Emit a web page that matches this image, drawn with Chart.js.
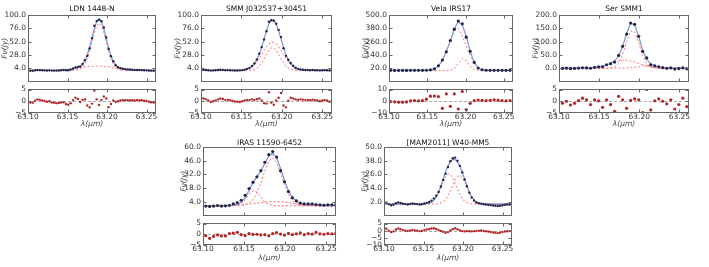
<!DOCTYPE html>
<html>
<head>
<meta charset="utf-8">
<script src="https://cdn.jsdelivr.net/npm/chart.js@4.4.0/dist/chart.umd.min.js"></script>
<style>
  html, body { margin: 0; padding: 0; background: #fff; }
  body { position: relative; width: 709px; height: 267px; overflow: hidden; }
  canvas { position: absolute; }
</style>
</head>
<body>
<script>
// wavelength ticks shared by every panel
const waveTicks = [63.10, 63.15, 63.20, 63.25];

// LDN 1448-N  (grid 63.100 + 0.003 i)
const ldnStart = 63.100, ldnStep = 0.003;
const ldnFlux = [-0.3,-0.5,-0.6,0.2,0.8,0.6,0.3,0.1,-0.2,0.1,-0.3,-0.3,-0.4,-0.1,0.3,0.7,0.2,0.3,1.5,3.5,5.3,6.1,7.0,11.7,18.5,26.2,39.6,58.3,80.6,89.2,91.3,88.6,77.4,59.6,38.6,25.5,16.7,9.5,5.9,4.1,3.0,2.4,1.8,1.6,1.2,0.9,0.8,0.8,0.6,0.3,0.1,-0.2,-0.4,-0.5,-0.6];
const ldnFit = [0,0,0,0,0,0,0,0,0,0.1,0.2,0.3,0.4,0.6,0.8,1.1,1.4,1.8,2.3,3.0,3.8,5.1,7.3,11.1,17.7,28.0,42.2,59.3,76.0,88.4,92.9,88.1,75.4,58.4,41.1,26.7,16.4,9.8,5.9,3.8,2.6,1.9,1.4,1.1,0.8,0.6,0.4,0.3,0.2,0.1,0,0,0,0,0];
const ldnNarrow = [0,0,0,0,0,0,0,0,0,0,0,0,0,0,0,0,0,0,0,0.1,0.3,0.9,2.4,5.6,11.5,21.2,34.9,51.6,68.1,80.4,85.0,80.4,68.1,51.6,34.9,21.2,11.5,5.6,2.4,0.9,0.3,0.1,0,0,0,0,0,0,0,0,0,0,0,0,0];
const ldnBroad = [0,0,0,0,0,0,0,0,0,0.1,0.2,0.3,0.4,0.6,0.8,1.1,1.4,1.8,2.3,2.9,3.5,4.2,4.9,5.5,6.2,6.8,7.3,7.7,7.9,8.0,7.9,7.7,7.3,6.8,6.2,5.5,4.9,4.2,3.5,2.9,2.3,1.8,1.4,1.1,0.8,0.6,0.4,0.3,0.2,0.1,0,0,0,0,0];
const ldnResid = [-0.3,-0.5,-0.6,0.2,0.8,0.6,0.3,0.1,-0.2,0.0,-0.5,-0.6,-0.8,-0.7,-0.5,-0.4,-1.2,-1.5,-0.8,0.5,1.5,1.0,-0.3,0.6,0.8,-1.8,-2.6,-1.0,4.6,0.8,-1.6,0.5,2.0,1.2,-2.5,-1.2,0.3,-0.3,0.0,0.3,0.4,0.5,0.4,0.5,0.4,0.3,0.4,0.5,0.4,0.2,0.1,-0.2,-0.4,-0.5,-0.6];
const ldnTicks = [4, 28, 52, 76, 100];

// SMM J032537+30451  (grid 63.100 + 0.003 i)
const smmStart = 63.100, smmStep = 0.003;
const smmFlux = [1.5,1.2,0.8,0.3,-0.3,0.0,0.3,0.8,1.2,1.0,0.5,0.6,0.4,0.1,-0.1,-0.1,0.0,0.6,1.4,2.8,4.6,7.9,12.4,19.9,30.1,42.1,55.8,70.6,87.8,90.5,89.5,84.3,73.1,60.1,40.0,26.3,19.2,13.4,8.3,4.9,2.8,1.9,1.3,0.8,0.7,0.4,0.7,0.4,0.3,0.0,0.3,0.5,0.3,-0.2,-0.3];
const smmFit = [0,0,0,0,0,0,0,0,0,0,0,0,0,0,0,0.1,0.3,0.6,1.1,2.2,4.1,7.1,11.9,19.0,28.9,41.8,56.6,71.6,84.0,91.0,91.0,84.0,71.6,56.6,41.8,28.9,19.0,11.9,7.1,4.1,2.2,1.1,0.6,0.3,0.1,0,0,0,0,0,0,0,0,0,0];
const smmWide = [0,0,0,0,0,0,0,0,0,0,0,0,0,0,0,0.1,0.3,0.6,1.1,2.1,3.8,6.4,10.1,15.1,21.3,28.5,35.8,42.6,47.8,50.6,50.6,47.8,42.6,35.8,28.5,21.3,15.1,10.1,6.4,3.8,2.1,1.1,0.6,0.3,0.1,0,0,0,0,0,0,0,0,0,0];
const smmNarrow = [0,0,0,0,0,0,0,0,0,0,0,0,0,0,0,0,0,0,0,0.1,0.3,0.7,1.8,3.9,7.6,13.3,20.8,29.0,36.2,40.4,40.4,36.2,29.0,20.8,13.3,7.6,3.9,1.8,0.7,0.3,0.1,0,0,0,0,0,0,0,0,0,0,0,0,0,0];
const smmResid = [1.5,1.2,0.8,0.3,-0.3,0.0,0.3,0.8,1.2,1.0,0.5,0.6,0.4,0.1,-0.1,-0.2,-0.3,0.0,0.3,0.6,0.5,0.8,0.5,0.9,1.2,0.3,-0.8,-1.0,3.8,-0.5,-1.5,0.3,1.5,3.5,-1.8,-2.6,0.2,1.5,1.2,0.8,0.6,0.8,0.7,0.5,0.6,0.4,0.7,0.4,0.3,0.0,0.3,0.5,0.3,-0.2,-0.3];
const smmTicks = [4, 28, 52, 76, 100];

// Vela IRS17  (grid 63.1021 + 0.0052 i)
const velaStart = 63.1021, velaStep = 0.0052;
const velaFlux = [0.5,0.2,-0.3,-0.5,-0.2,0.6,0.8,0.4,0.9,1.5,5,14,42,93,168,270,372,446,420,300,172,72,22,6,1.5,0.8,1.0,0.6,1.2,0.9,0.5];
const velaFit = [0,0,0,0,0,0,0,0,0,0.5,2,10,38,89,174,264,376,440,412,308,173,73,21,5,1,0,0,0,0,0,0];
const velaMain = [0,0,0,0,0,0,0,0,0,0.5,2,10,38,89,174,262,360,379,305,219,138,67,20,5,1,0,0,0,0,0,0];
const velaSmall = [0,0,0,0,0,0,0,0,0,0,0,0,0,0,0,2,16.5,61,107,89,35,6.4,0.5,0,0,0,0,0,0,0,0];
const velaResid = [-0.3,-0.5,-0.8,-0.8,-0.6,0.3,0.6,0.4,0.5,1.8,4.3,4.4,4.0,-6.0,6.3,-4.3,6.3,-6.6,8.3,-7.0,-1.8,0.6,1.0,0.8,0.5,0.8,1.2,0.9,0.6,0.3,0.5];
const velaTicks = [20, 140, 260, 380, 500];

// Ser SMM1  (grid 63.1043 + 0.005 i)
const serStart = 63.1043, serStep = 0.005;
const serFlux = [-0.8,0.0,-1.6,-0.9,0.3,1.5,1.2,-0.1,3.2,4.9,5.4,13.0,17.0,23.2,47.9,82.2,128.4,169.5,164.8,119.7,62.9,38.5,12.9,9.0,5.4,1.9,-0.3,0.9,-3.2,-1.4,1.3,-2.3];
const serFit = [0,0,0,0,0,0.2,0.6,1.3,2.6,4.7,8.0,12.4,18.4,27.5,45.8,81.6,131.4,169.1,163.8,119.1,67.7,33.5,16.6,8.8,4.4,1.9,0.8,0.3,0.1,0,0,0];
const serMain = [0,0,0,0,0,0,0,0,0,0,0,0.1,0.9,4.8,18.7,51.8,101,140,137,95,46.7,16.2,4.0,0.7,0,0,0,0,0,0,0,0];
const serBroad = [0,0,0,0,0,0.2,0.6,1.3,2.6,4.7,8.0,12.3,17.5,22.7,27.1,29.6,29.7,27.4,23.1,17.9,12.7,8.3,4.9,2.7,1.4,0.6,0.3,0.1,0,0,0,0];
const serRed = [0,0,0,0,0,0,0,0,0,0,0,0,0,0,0,0.2,0.7,1.7,3.7,6.2,8.3,9.0,7.7,5.4,3.0,1.3,0.5,0.2,0.1,0,0,0];
const serResid = [-0.8,0.0,-1.6,-0.9,0.3,1.3,0.6,-1.4,0.6,0.2,-2.6,0.6,-1.4,-4.3,2.1,0.6,-3.0,0.4,1.0,0.6,-4.8,5.0,-3.7,0.2,1.0,0.0,-1.1,0.6,-3.3,-1.4,1.3,-2.3];
const serTicks = [0, 50, 100, 150, 200];

// IRAS 11590-6452  (grid 63.1033 + 0.0048 i)
const irasStart = 63.1033, irasStep = 0.0048;
const irasFlux = [-0.4,-0.7,-0.4,0.2,-0.4,-0.1,0.5,1.8,3.1,5.6,10.6,17.6,23.9,29.5,35.8,44.4,52.2,55.4,49.7,35.8,24.5,14.4,8.1,4.9,2.7,1.8,1.8,1.8,1.2,0.8,0.5,0.8,0.8,0.8];
const irasFit = [-0.5,-0.5,-0.4,-0.3,-0.2,0.0,0.2,0.6,1.3,3.4,8.2,15.7,23.6,29.7,35.4,43.1,50.9,53.7,48.8,38.0,25.5,15.2,8.4,4.8,2.8,1.9,1.5,1.3,1.1,1.0,0.9,0.9,0.9,0.9];
const irasMain = [0,0,0,0,0,0,0,0,0,0.2,0.8,2.3,6.0,12.9,23.4,35.6,45.5,49.0,44.2,33.6,21.4,11.5,5.2,2.0,0.6,0.2,0,0,0,0,0,0,0,0];
const irasSmall = [0,0,0,0,0,0,0,0.1,0.5,2.2,6.0,11.6,15.3,13.9,8.6,3.6,1.1,0.2,0,0,0,0,0,0,0,0,0,0,0,0,0,0,0,0];
const irasBroad = [0,0,0,0,0,0.1,0.2,0.3,0.5,0.8,1.2,1.6,2.1,2.7,3.2,3.7,4.1,4.3,4.3,4.1,3.7,3.2,2.6,2.1,1.5,1.1,0.8,0.5,0.3,0.2,0.1,0.1,0,0];
const irasResid = [-0.7,-1.9,-1.0,-0.3,-0.8,-0.8,0.3,0.5,0.9,-0.2,-0.6,0.3,-0.1,0.0,-0.3,-0.2,-0.7,0.3,0.8,0.1,-0.4,0.4,-0.2,0.2,0.6,-0.2,0.3,0.1,0.9,0.2,0.0,0.3,0.2,0.4];
const irasTicks = [4, 18, 32, 46, 60];

// [MAM2011] W40-MM5  (grid 63.100 + 0.003 i)
const w40Start = 63.100, w40Step = 0.003;
const w40Flux = [2.2,1.3,0.0,-1.0,-0.5,0.8,1.5,1.0,0.4,0.0,-0.3,0.2,0.5,0.2,0.0,-0.3,-0.2,0.5,1.1,1.8,3.0,5.0,7.3,10.6,15.4,21.2,26.7,32.5,37.5,40.1,40.7,38.0,33.5,27.8,21.5,15.6,10.0,5.8,3.1,1.4,0.7,0.4,-0.1,-0.4,-0.6,-0.9,-1.2,-1.5,-1.7,-1.4,-1.0,-0.6,-0.4,-0.3,-0.2];
const w40Fit = [0,0,0,0,0,0,0,0,0,0,0,0,0,0,0,0,0,0.1,0.3,0.7,1.5,3.3,6.1,10.1,15.6,22.0,28.2,33.5,37.3,39.1,39.0,37.0,33.3,28.1,22.0,15.9,10.4,6.3,3.4,1.6,0.7,0.3,0.1,0,0,0,0,0,0,0,0,0,0,0,0];
const w40Left = [0,0,0,0,0,0,0,0,0,0,0,0,0,0,0,0,0,0.1,0.3,0.7,1.5,3.2,5.9,9.7,14.6,19.9,24.1,26.3,25.9,22.8,18.1,12.9,8.3,4.8,2.5,1.2,0.5,0.2,0.1,0,0,0,0,0,0,0,0,0,0,0,0,0,0,0,0];
const w40Right = [0,0,0,0,0,0,0,0,0,0,0,0,0,0,0,0,0,0,0,0,0,0.1,0.2,0.4,1.0,2.1,4.1,7.2,11.4,16.3,20.9,24.1,25.0,23.3,19.5,14.7,9.9,6.1,3.3,1.6,0.7,0.3,0.1,0,0,0,0,0,0,0,0,0,0,0,0];
const w40Resid = [2.2,1.3,0.0,-1.0,-0.5,0.8,1.5,1.0,0.4,0.0,-0.3,0.2,0.5,0.2,0.0,-0.3,-0.2,0.4,0.8,1.1,1.5,1.7,1.2,0.5,-0.2,-0.8,-1.5,-1.0,0.2,1.0,1.7,1.0,0.2,-0.3,-0.5,-0.3,-0.4,-0.5,-0.3,-0.2,0.0,0.1,-0.2,-0.4,-0.6,-0.9,-1.2,-1.5,-1.7,-1.4,-1.0,-0.6,-0.4,-0.3,-0.2];
const w40Ticks = [2, 14, 26, 38, 50];

const resid5Ticks = [-5, 0, 5];
const resid10Ticks = [-10, 0, 10];
const w40ResidTicks = [-10, -5, 0, 5];

// layout of the two rows (pixels)
const rows = [
  { top: 15, mid: 88, bot: 113, xh: 16, W: 27, titleLH: 1.2, titlePad: 1 },
  { top: 147, mid: 222, bot: 245, xh: 18, W: 23, titleLH: 8 / 7.5, titlePad: 0 }
];

const panels = [
  { title: 'LDN 1448-N', start: ldnStart, step: ldnStep, flux: ldnFlux, fit: ldnFit, comps: [ldnNarrow, ldnBroad], resid: ldnResid,
    yMin: -20, yMax: 100, yTicks: ldnTicks, rMin: -5, rMax: 5, rTicks: resid5Ticks, row: 0, L: 28, R: 158, r: 1.2 },
  { title: 'SMM J032537+30451', start: smmStart, step: smmStep, flux: smmFlux, fit: smmFit, comps: [smmWide, smmNarrow], resid: smmResid,
    yMin: -20, yMax: 100, yTicks: smmTicks, rMin: -5, rMax: 5, rTicks: resid5Ticks, row: 0, L: 201, R: 334, r: 1.2 },
  { title: 'Vela IRS17', start: velaStart, step: velaStep, flux: velaFlux, fit: velaFit, comps: [velaMain, velaSmall], resid: velaResid,
    yMin: -100, yMax: 500, yTicks: velaTicks, rMin: -10, rMax: 10, rTicks: resid10Ticks, row: 0, L: 389, R: 515, r: 1.6 },
  { title: 'Ser SMM1', start: serStart, step: serStep, flux: serFlux, fit: serFit, comps: [serMain, serBroad, serRed], resid: serResid,
    yMin: -50, yMax: 200, yTicks: serTicks, rMin: -5, rMax: 5, rTicks: resid5Ticks, row: 0, L: 559, R: 691, r: 1.6 },
  { title: 'IRAS 11590-6452', start: irasStart, step: irasStep, flux: irasFlux, fit: irasFit, comps: [irasMain, irasSmall, irasBroad], resid: irasResid,
    yMin: -10, yMax: 60, yTicks: irasTicks, rMin: -5, rMax: 5, rTicks: resid5Ticks, row: 1, L: 203, R: 338, r: 1.6 },
  { title: '[MAM2011] W40-MM5', start: w40Start, step: w40Step, flux: w40Flux, fit: w40Fit, comps: [w40Left, w40Right], resid: w40Resid,
    yMin: -10, yMax: 50, yTicks: w40Ticks, rMin: -10, rMax: 5, rTicks: w40ResidTicks, row: 1, L: 384, R: 514, r: 1.2 }
];

const FONT = 'DejaVu Sans';
const X_MIN = 63.10, X_MAX = 63.262;
const FRAME = '#666';

Chart.defaults.font.family = FONT;
Chart.defaults.color = '#333';

// box around the axes, inward tick marks and the dashed zero line
const framePlugin = {
  id: 'frame',
  beforeDatasetsDraw(chart, args, opts) {
    if (!opts.zero) return;
    const { ctx, chartArea: a, scales } = chart;
    const y = Math.round(scales.y.getPixelForValue(0)) + 0.5;
    ctx.save();
    ctx.strokeStyle = '#aaa';
    ctx.lineWidth = 1;
    ctx.setLineDash([3, 2]);
    ctx.beginPath();
    ctx.moveTo(a.left, y);
    ctx.lineTo(a.right, y);
    ctx.stroke();
    ctx.restore();
  },
  afterDatasetsDraw(chart, args, opts) {
    const { ctx, chartArea: a, scales } = chart;
    const l = Math.round(a.left) + 0.5, r = Math.round(a.right) - 0.5;
    const t = Math.round(a.top) + (opts.zero ? -0.5 : 0.5), b = Math.round(a.bottom) - 0.5;
    ctx.save();
    ctx.strokeStyle = FRAME;
    ctx.lineWidth = 1;
    ctx.strokeRect(l, t, r - l, b - t);
    ctx.beginPath();
    scales.y.ticks.forEach(tk => {
      const py = Math.round(scales.y.getPixelForValue(tk.value)) + 0.5;
      ctx.moveTo(l, py); ctx.lineTo(l + 3, py);
      ctx.moveTo(r, py); ctx.lineTo(r - 3, py);
    });
    waveTicks.forEach(v => {
      const px = Math.round(scales.x.getPixelForValue(v)) + 0.5;
      ctx.moveTo(px, t); ctx.lineTo(px, t + 3);
      ctx.moveTo(px, b); ctx.lineTo(px, b - 3);
    });
    ctx.stroke();
    ctx.restore();
  }
};

function makeCanvas(left, top, w, h) {
  const c = document.createElement('canvas');
  c.width = w;
  c.height = h;
  c.style.left = left + 'px';
  c.style.top = top + 'px';
  c.style.width = w + 'px';
  c.style.height = h + 'px';
  document.body.appendChild(c);
  return c;
}

function points(p, ys) {
  return ys.map((y, i) => ({ x: +(p.start + p.step * i).toFixed(4), y: y }));
}

function minus(v) {
  return v < 0 ? '\u2212' + Math.abs(v) : String(v);
}

panels.forEach(p => {
  const row = rows[p.row];
  const plotW = p.R - p.L;
  const titleH = 7.5 * row.titleLH + row.titlePad;
  const left = p.L - row.W;
  const width = row.W + plotW + 2;

  // main spectrum
  const mainDatasets = [
    { data: points(p, p.flux), showLine: false, pointRadius: p.r, pointBackgroundColor: '#25254a', pointBorderWidth: 0 },
    { data: points(p, p.fit), showLine: true, pointRadius: 0, borderColor: '#7896dc', borderWidth: 1.2 }
  ];
  p.comps.forEach(c => mainDatasets.push({
    data: points(p, c), showLine: true, pointRadius: 0, borderColor: '#ff6f6f', borderWidth: 1, borderDash: [2, 2]
  }));

  new Chart(makeCanvas(left, row.top - titleH, width, titleH + row.mid - row.top), {
    type: 'scatter',
    data: { datasets: mainDatasets },
    options: {
      responsive: false,
      animation: false,
      events: [],
      layout: { padding: { left: 0, right: 2, top: 0, bottom: 0 } },
      plugins: {
        legend: { display: false },
        tooltip: { enabled: false },
        title: {
          display: true, text: p.title, fullSize: false, color: '#111',
          font: { family: FONT, size: 7.5, lineHeight: row.titleLH, weight: 'normal' },
          padding: { top: 0, bottom: row.titlePad }
        },
        frame: { zero: false }
      },
      scales: {
        x: {
          type: 'linear', min: X_MIN, max: X_MAX,
          ticks: { display: false },
          grid: { display: false, drawTicks: false },
          border: { display: false },
          afterFit: s => { s.height = 0; }
        },
        y: {
          type: 'linear', min: p.yMin, max: p.yMax,
          afterBuildTicks: s => { s.ticks = p.yTicks.map(v => ({ value: v })); },
          ticks: { callback: v => v.toFixed(1), font: { size: 7.5 }, color: '#333', padding: 2, autoSkip: false },
          grid: { display: false, drawTicks: false },
          border: { display: false },
          title: { display: true, text: 'F\u03BD(Jy)', color: '#444', font: { size: 7.5, style: 'italic' }, padding: 0 },
          afterFit: s => { s.width = row.W; }
        }
      }
    },
    plugins: [framePlugin]
  });

  // residuals
  const pad = 5;
  new Chart(makeCanvas(left, row.mid - pad, width, pad + row.bot - row.mid + row.xh), {
    type: 'scatter',
    data: {
      datasets: [
        { data: points(p, p.resid), showLine: false, pointRadius: p.r, pointBackgroundColor: '#b32626', pointBorderWidth: 0 }
      ]
    },
    options: {
      responsive: false,
      animation: false,
      events: [],
      layout: { padding: { left: 0, right: 2, top: pad, bottom: 0 } },
      plugins: {
        legend: { display: false },
        tooltip: { enabled: false },
        frame: { zero: true }
      },
      scales: {
        x: {
          type: 'linear', min: X_MIN, max: X_MAX,
          afterBuildTicks: s => { s.ticks = waveTicks.map(v => ({ value: v })); },
          ticks: { callback: v => v.toFixed(2), font: { size: 7.5 }, color: '#333', padding: 0, autoSkip: false, maxRotation: 0 },
          grid: { display: false, drawTicks: false },
          border: { display: false },
          title: { display: true, text: '\u03BB(\u03BCm)', color: '#444', font: { size: 7.5, style: 'italic' }, padding: 0 },
          afterFit: s => { s.height = row.xh; }
        },
        y: {
          type: 'linear', min: p.rMin, max: p.rMax,
          afterBuildTicks: s => { s.ticks = p.rTicks.map(v => ({ value: v })); },
          ticks: { callback: v => minus(v), font: { size: 7.5 }, color: '#333', padding: 2, autoSkip: false },
          grid: { display: false, drawTicks: false },
          border: { display: false },
          afterFit: s => { s.width = row.W; }
        }
      }
    },
    plugins: [framePlugin]
  });
});
</script>
</body>
</html>
